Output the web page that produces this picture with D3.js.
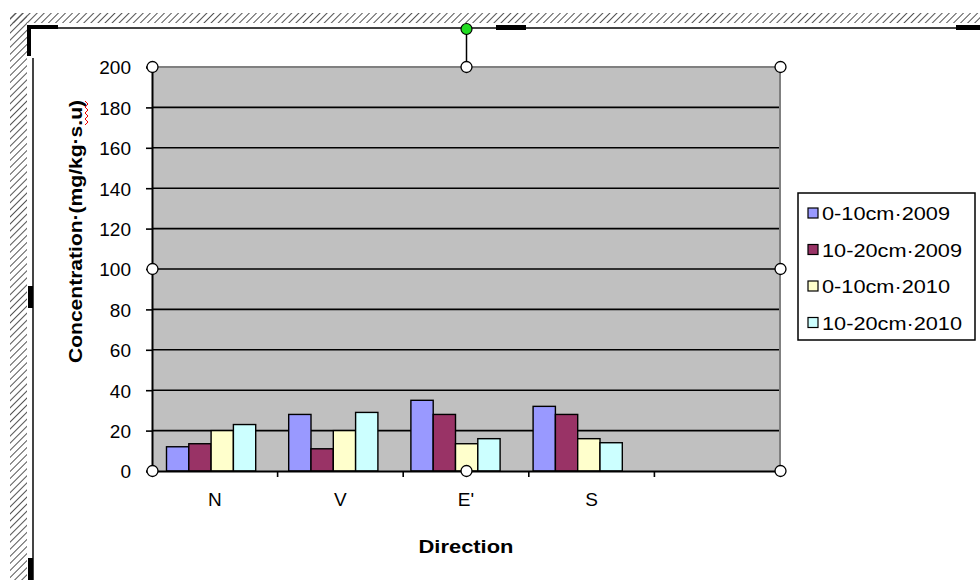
<!DOCTYPE html>
<html><head><meta charset="utf-8">
<script src="https://cdn.jsdelivr.net/npm/d3@7"></script>
<style>html,body{margin:0;padding:0;background:#fff;}svg{display:block;font-family:"Liberation Sans",Arial,sans-serif;}</style>
</head><body>
<script>
const categories = ["N", "V", "E'", "S", ""];
const seriesNames = ["0-10cm\u00b72009", "10-20cm\u00b72009", "0-10cm\u00b72010", "10-20cm\u00b72010"];
const s0_10_2009  = [12, 28, 35, 32];
const s10_20_2009 = [13.5, 11, 28, 28];
const s0_10_2010  = [20, 20, 13.5, 16];
const s10_20_2010 = [23, 29, 16, 14];
const seriesColors = ["#9999FF", "#993366", "#FFFFCC", "#CCFFFF"];
const yTicks = [0, 20, 40, 60, 80, 100, 120, 140, 160, 180, 200];
const yTitle = "Concentration\u00b7(mg/kg\u00b7s.u)";
const xTitle = "Direction";

const series = [s0_10_2009, s10_20_2009, s0_10_2010, s10_20_2010];
const W = 980, H = 580;
const L = 152, R = 780, T = 67, B = 471;
const FONT = "Liberation Sans, Arial, sans-serif";

const svg = d3.select("body").append("svg").attr("width", W).attr("height", H);
const defs = svg.append("defs");
const pat = defs.append("pattern").attr("id", "hatch").attr("patternUnits", "userSpaceOnUse")
  .attr("width", 5).attr("height", 5).attr("patternTransform", "rotate(45)");
pat.append("line").attr("x1", 0).attr("y1", 0).attr("x2", 0).attr("y2", 5)
  .attr("stroke", "#555").attr("stroke-width", 2);

// Word frame: hatched border
svg.append("rect").attr("x", 10).attr("y", 13).attr("width", W - 10).attr("height", 10).attr("fill", "url(#hatch)");
svg.append("rect").attr("x", 10).attr("y", 13).attr("width", 17).attr("height", H - 13).attr("fill", "url(#hatch)");
svg.append("line").attr("x1", 58).attr("x2", W).attr("y1", 28).attr("y2", 28).attr("stroke", "#444").attr("stroke-width", 2);
svg.append("line").attr("x1", 33).attr("x2", 33).attr("y1", 58).attr("y2", H).attr("stroke", "#444").attr("stroke-width", 2);
svg.append("path").attr("d", "M29,56 V27 H58").attr("fill", "none").attr("stroke", "#000").attr("stroke-width", 4);
svg.append("rect").attr("x", 496).attr("y", 25).attr("width", 30).attr("height", 5).attr("fill", "#000");
svg.append("rect").attr("x", 956).attr("y", 25).attr("width", 24).attr("height", 5).attr("fill", "#000");
svg.append("rect").attr("x", 28).attr("y", 286).attr("width", 5).attr("height", 22).attr("fill", "#000");
svg.append("rect").attr("x", 28).attr("y", 558).attr("width", 5).attr("height", 22).attr("fill", "#000");

// scales
const x = d3.scaleBand().domain(categories).range([L, R]).padding(0);
const xBars = d3.scaleBand().domain(categories).range([150, 761]).paddingInner(0.27).paddingOuter(0.135);
const xs = d3.scaleBand().domain(d3.range(series.length)).range([0, xBars.bandwidth()]);
const y = d3.scaleLinear().domain([0, 200]).range([B, T]);

// plot area
svg.append("rect").attr("x", L).attr("y", T).attr("width", R - L).attr("height", B - T).attr("fill", "#C0C0C0");
svg.append("g").selectAll("line").data(yTicks.filter(d => d > 0 && d < 200)).join("line")
  .attr("x1", L).attr("x2", R).attr("y1", d => y(d)).attr("y2", d => y(d))
  .attr("stroke", "#000").attr("stroke-width", 1.6);
svg.append("path").attr("d", `M${L},${y(200)} H${R} V${B}`).attr("fill", "none").attr("stroke", "#808080").attr("stroke-width", 2);

// bars
const gBars = svg.append("g");
categories.slice(0, 4).forEach((c, i) => {
  series.forEach((s, j) => {
    gBars.append("rect")
      .attr("x", xBars(c) + xs(j)).attr("width", xs.bandwidth())
      .attr("y", y(s[i])).attr("height", y(0) - y(s[i]))
      .attr("fill", seriesColors[j]).attr("stroke", "#000").attr("stroke-width", 1.4);
  });
});

// y axis
const yAxis = svg.append("g").attr("transform", `translate(${L},0)`)
  .call(d3.axisLeft(y).tickValues(yTicks).tickSize(6).tickPadding(15));
yAxis.select(".domain").attr("stroke", "#000").attr("stroke-width", 2);
yAxis.selectAll(".tick line").attr("stroke", "#000").attr("stroke-width", 1.6);
yAxis.selectAll("text").attr("font-size", 19).attr("fill", "#000").attr("font-family", FONT)
  .attr("dy", "0.36em");

// x axis
const xAxis = svg.append("g").attr("transform", `translate(0,${B})`)
  .call(d3.axisBottom(x).tickSize(0).tickPadding(22));
xAxis.select(".domain").attr("stroke", "#000").attr("stroke-width", 2);
xAxis.selectAll("text").attr("font-size", 19).attr("fill", "#000").attr("font-family", FONT);
svg.append("g").selectAll("line").data(categories.slice(1)).join("line")
  .attr("x1", d => x(d)).attr("x2", d => x(d)).attr("y1", B).attr("y2", B + 6)
  .attr("stroke", "#000").attr("stroke-width", 1.6);

// titles
svg.append("text").attr("x", (L + R) / 2).attr("y", 553).attr("text-anchor", "middle")
  .attr("font-size", 19).attr("font-weight", "bold")
  .attr("textLength", 95).attr("lengthAdjust", "spacingAndGlyphs").text(xTitle);
svg.append("text").attr("transform", `translate(82,231.5) rotate(-90)`)
  .attr("text-anchor", "middle").attr("font-size", 18).attr("font-weight", "bold")
  .attr("textLength", 263).attr("lengthAdjust", "spacingAndGlyphs").text(yTitle);
// red spell-check squiggle under "s.u"
let zz = "M85,101";
for (let k = 0; k < 8; k++) zz += ` L${k % 2 ? 85 : 88},${104 + k * 3}`;
svg.append("path").attr("d", zz).attr("fill", "none").attr("stroke", "#e00").attr("stroke-width", 1);

// legend
const lg = svg.append("g").attr("transform", "translate(798,193)");
lg.append("rect").attr("width", 177).attr("height", 147).attr("fill", "#fff").attr("stroke", "#000").attr("stroke-width", 1.5);
const legendLens = [128, 140, 128, 140];
seriesNames.forEach((n, j) => {
  const yy = 20 + j * 36.5;
  lg.append("rect").attr("x", 10).attr("y", yy - 5).attr("width", 10).attr("height", 10)
    .attr("fill", seriesColors[j]).attr("stroke", "#000").attr("stroke-width", 1.2);
  lg.append("text").attr("x", 24).attr("y", yy + 7).attr("font-size", 19)
    .attr("textLength", legendLens[j]).attr("lengthAdjust", "spacingAndGlyphs").text(n);
});

// selection handles
svg.append("line").attr("x1", (L + R) / 2 + 0.5).attr("x2", (L + R) / 2 + 0.5).attr("y1", 28).attr("y2", T)
  .attr("stroke", "#000").attr("stroke-width", 1.5);
svg.append("circle").attr("cx", (L + R) / 2 + 0.5).attr("cy", 29).attr("r", 5.5)
  .attr("fill", "#22dd22").attr("stroke", "#000").attr("stroke-width", 1.2);
const handles = [[L, T], [(L + R) / 2, T], [R, T], [L, (T + B) / 2], [R, (T + B) / 2], [L, B], [(L + R) / 2, B], [R, B]];
svg.append("g").selectAll("circle").data(handles).join("circle")
  .attr("cx", d => d[0] + 0.5).attr("cy", d => d[1]).attr("r", 5.5)
  .attr("fill", "#fff").attr("stroke", "#000").attr("stroke-width", 1.3);
</script>
</body></html>
